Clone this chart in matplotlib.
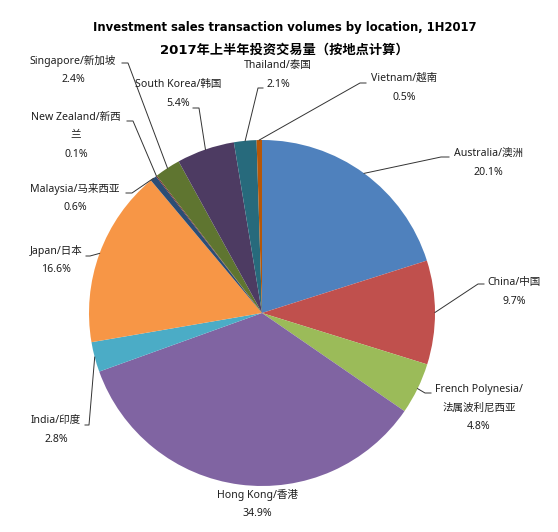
import numpy as np
import matplotlib.pyplot as plt

plt.rcParams['font.family'] = ['Noto Sans', 'Noto Sans CJK SC', 'DejaVu Sans']

# data
locations = ["Australia/澳洲", "China/中国", "French Polynesia/\n法属波利尼西亚", "Hong Kong/香港",
             "India/印度", "Japan/日本", "Malaysia/马来西亚", "New Zealand/新西\n兰",
             "Singapore/新加坡", "South Korea/韩国", "Thailand/泰国", "Vietnam/越南"]
shares = [20.1, 9.7, 4.8, 34.9, 2.8, 16.6, 0.6, 0.1, 2.4, 5.4, 2.1, 0.5]
colors = ["#4F81BD", "#C0504D", "#9BBB59", "#8064A2", "#4BACC6", "#F79646",
          "#2C4D75", "#772C2A", "#5F7530", "#4D3B62", "#276A7C", "#B65708"]
title_en = "Investment sales transaction volumes by location, 1H2017"
title_cn = "2017年上半年投资交易量（按地点计算）"

W, H = 558, 532

# label block centres and leader line (elbow, end), in pixel coords from top-left
label_pos = [(488, 163), (514, 292), (479, 408), (257, 504), (56, 430), (56, 260),
             (75, 198), (76, 136), (73, 70), (178, 94), (278, 75), (404, 88)]
leaders = [((441, 157), (449, 157)), ((478, 284), (484, 284)), ((425, 393), (431, 393)), None,
           ((89, 425), (85, 425)), ((90, 256), (86, 256)), ((132, 193), (126, 193)),
           ((133, 121), (127, 121)), ((128, 63), (122, 63)), ((199, 108), (193, 108)),
           ((258, 88), (263, 88)), ((360, 83), (366, 83))]


def px(x, y):
    return x, H - y


fig = plt.figure(figsize=(W / 100, H / 100), dpi=100)
ax = fig.add_axes([0, 0, 1, 1])

cx, cy = px(262, 313)
r = 173
wedges, _ = ax.pie(shares, colors=colors, startangle=90, counterclock=False,
                   center=(cx, cy), radius=r, wedgeprops=dict(linewidth=0))

for w, name, pct, pos, ld in zip(wedges, locations, shares, label_pos, leaders):
    tx, ty = px(*pos)
    ax.text(tx, ty, f"{name}\n{pct:.1f}%", ha='center', va='center', fontsize=7.6,
            linespacing=1.95, color='#1e1e1e')
    if ld is None:
        continue
    mid = np.deg2rad((w.theta1 + w.theta2) / 2)
    sx, sy = cx + r * np.cos(mid), cy + r * np.sin(mid)
    ex, ey = px(*ld[0])
    fx, fy = px(*ld[1])
    ax.plot([sx, ex, fx], [sy, ey, fy], color='#333333', lw=0.7)

ax.text(*px(285, 27), title_en, ha='center', va='center', fontsize=8.4,
        fontweight='bold', family=['DejaVu Sans', 'Noto Sans CJK SC'])
ax.text(*px(284, 50), title_cn, ha='center', va='center', fontsize=9.5,
        fontweight='bold', family=['DejaVu Sans', 'Noto Sans CJK SC'])

ax.set_xlim(0, W)
ax.set_ylim(0, H)
ax.set_aspect('equal')
ax.axis('off')

fig.savefig("out.png", dpi=100, facecolor='white')
